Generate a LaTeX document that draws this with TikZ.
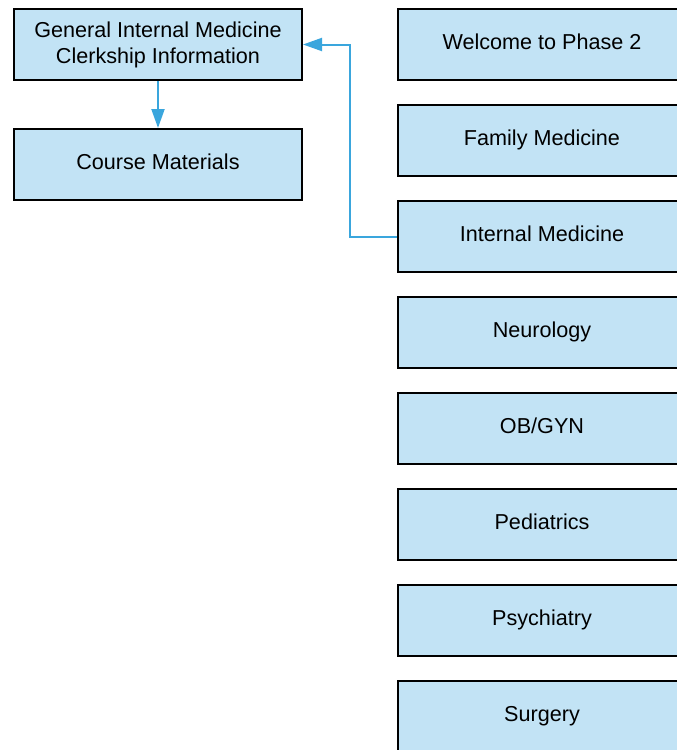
\documentclass[tikz,border=0pt]{standalone}
\usepackage{fontspec}
\setmainfont{Liberation Sans}
\usetikzlibrary{arrows.meta}
\definecolor{boxfill}{HTML}{C2E3F5}
\definecolor{linkblue}{HTML}{3AA6DD}
\tikzset{
  basebox/.style={draw=black, line width=2pt, fill=boxfill, minimum width=288pt, minimum height=71pt, inner sep=0pt, align=center, font=\fontsize{21.6}{26}\selectfont},
  box/.style={basebox, text height=15pt, text depth=5.6pt},
  link/.style={draw=linkblue, line width=2pt, -{Triangle[length=19pt,width=13pt]}}
}
\begin{document}
\begin{tikzpicture}[x=1pt,y=-1pt]
\useasboundingbox (0,0) rectangle (677,750);
\clip (0,0) rectangle (677,750);
\node[basebox] (gim) at (158,44.5) {General Internal Medicine\\Clerkship Information};
\node[box] (cm) at (158,164.5) {Course Materials};
\node[box] (w) at (542,44.5) {Welcome to Phase 2};
\node[box] (fm) at (542,140.5) {Family Medicine};
\node[box] (im) at (542,236.5) {Internal Medicine};
\node[box] (neu) at (542,332.5) {Neurology};
\node[box] (ob) at (542,428.5) {OB/GYN};
\node[box] (ped) at (542,524.5) {Pediatrics};
\node[box] (psy) at (542,620.5) {Psychiatry};
\node[box] (sur) at (542,716.5) {Surgery};
\coordinate (bend) at (350,0);
\draw[link] (gim.south) -- (cm.north);
\draw[link] (im.west) -| (bend |- im.west) |- (gim.east);
\end{tikzpicture}
\end{document}
